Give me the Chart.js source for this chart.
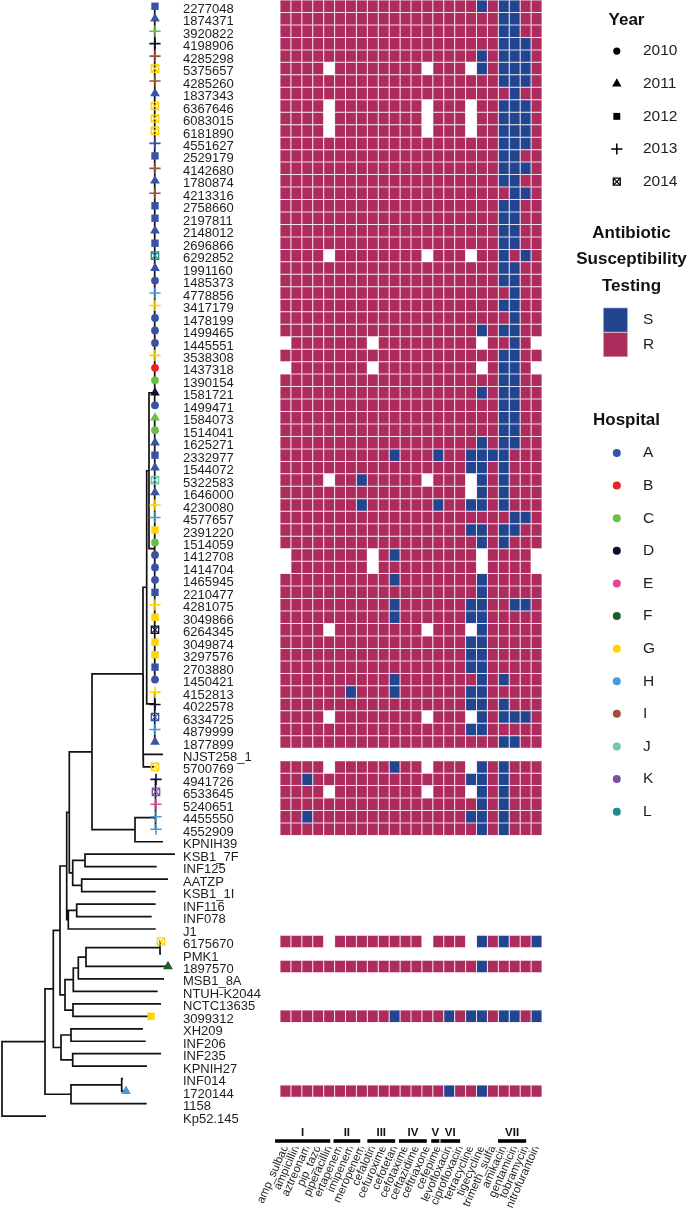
<!DOCTYPE html>
<html>
<head>
<meta charset="utf-8">
<script src="https://cdn.jsdelivr.net/npm/chart.js@4.4.1/dist/chart.umd.min.js"></script>
<style>
  html, body { margin:0; padding:0; background:#ffffff; }
  body { width:689px; height:1215px; position:relative; overflow:hidden; }
  .box { position:absolute; }
</style>
</head>
<body>
<div class="box" style="left:0;top:0;width:183px;height:1215px;"><canvas id="tree"></canvas></div>
<div class="box" style="left:183px;top:0;width:359px;height:1215px;"><canvas id="heat"></canvas></div>
<div class="box" style="left:564px;top:0;width:125px;height:198px;"><canvas id="legYear"></canvas></div>
<div class="box" style="left:574px;top:200px;width:115px;height:157px;"><canvas id="legAst"></canvas></div>
<div class="box" style="left:564px;top:395px;width:125px;height:433px;"><canvas id="legHosp"></canvas></div>
<script>
// ---------------- DATA ----------------
const TIPS = ['2277048','1874371','3920822','4198906','4285298','5375657','4285260','1837343','6367646','6083015',
  '6181890','4551627','2529179','4142680','1780874','4213316','2758660','2197811','2148012','2696866',
  '6292852','1991160','1485373','4778856','3417179','1478199','1499465','1445551','3538308','1437318',
  '1390154','1581721','1499471','1584073','1514041','1625271','2332977','1544072','5322583','1646000',
  '4230080','4577657','2391220','1514059','1412708','1414704','1465945','2210477','4281075','3049866',
  '6264345','3049874','3297576','2703880','1450421','4152813','4022578','6334725','4879999','1877899',
  'NJST258_1','5700769','4941726','6533645','5240651','4455550','4552909','KPNIH39','KSB1_7F','INF125',
  'AATZP','KSB1_1I','INF116','INF078','J1','6175670','PMK1','1897570','MSB1_8A','NTUH-K2044',
  'NCTC13635','3099312','XH209','INF206','INF235','KPNIH27','INF014','1720144','1158','Kp52.145'];

// tip depth (tree x position)
const TIP_X = [155,155,155,155,155,155,155,155,155,155,
  155,155,155,155,155,155,155,155,155,155,
  155,155,155,155,155,155,155,155,155,155,
  155,155,155,155,155,155,155,155,155,155,
  155,155,155,155,155,155,155,155,155,155,
  155,155,155,155,155,155,155,155,155,155,
  163,155,156,156,156,156,156,163,175,156.7,
  168,155.7,155.7,151.7,155.7,161,161,168,164,157.7,
  161,151,143,145.7,161,147,123,126,146.7,46];

const YEAR = [2012,2011,2013,2013,2013,2014,2013,2011,2014,2014,
  2014,2013,2012,2013,2011,2013,2012,2012,2011,2012,
  2014,2011,2010,2013,2013,2010,2010,2010,2013,2010,
  2010,2011,2010,2011,2010,2011,2012,2011,2014,2011,
  2013,2013,2012,2010,2010,2010,2010,2012,2013,2012,
  2014,2012,2012,2012,2010,2013,2013,2014,2013,2011,
  null,2014,2013,2014,2013,2013,2013,null,null,null,
  null,null,null,null,null,2014,null,2011,null,null,
  null,2012,null,null,null,null,null,2011,null,null];

const HOSP = ['A','A','C','D','I','G','I','A','G','G',
  'G','A','A','I','A','I','A','A','A','A',
  'L','A','A','H','G','A','A','A','G','B',
  'C','D','A','C','C','A','A','A','J','A',
  'G','H','G','C','A','A','A','A','G','G',
  'D','G','G','A','A','G','D','A','H','A',
  null,'G','D','K','E','H','H',null,null,null,
  null,null,null,null,null,'G',null,'F',null,null,
  null,'G',null,null,null,null,null,'H',null,null];

// tree: [node depth, children...]; a number is a tip (row index)
// ['lad', depth, tips...] = (((t0,t1),t2),...) ; ['ladR', depth, tips...] = (t0,(t1,(t2,...)))
const ST258 = [143,
  [146.7,
    [149,
      ['lad', 154.7, 0,1,2,3,4,5,6,7,8,9,10,11,12,13,14,15,16,17,18,19,20,21,22,23,24,25,26,27,28,29,30,31,32],
      [154.7, 33,34,35,36,37,38,39,40,41,42,43,44,45,46,47,48,49,50,51,52,53,54]],
    ['ladR', 154.7, 55,56,57,58,59]],
  [143.3, 60, 61]];
const CLADE_Q = [135, ['lad', 155.5, 62,63,64,65,66], 67];
const CLADE_M = [66.7,
  [69.3, [92, ST258, CLADE_Q], [72.7, [85, 68, 69], [81.7, 70, 71]]],
  [68.3, [76.7, 72, 73], 74]];
const CLADE_K = [65, [73.3, [78.3, [86, [160, 75, 76], 77], 78], 79], [73, 80, 81]];
const CLADE_L = [61, [71, 82, 83], [72.7, 84, 85]];
const TREE = [2,
  [45,
    [53.3, [60, CLADE_M, CLADE_K], CLADE_L],
    [71, [121.7, 86, 87], 88]],
  89];

const ABX = ['amp_sulbac','ampicillin','aztreonam','pip_tazo','piperacillin','ertapenem','imipenem','meropenem',
  'cefalotin','cefuroxime','cefotetan','cefotaxime','ceftazidime','ceftriaxone','cefepime','levofloxacin',
  'ciprofloxacin','tetracycline','tigecycline','trimeth_sulfa','amikacin','gentamicin','tobramycin','nitrofurantoin'];

// S = susceptible, R = resistant, - = not tested (groups of 6 antibiotics)
const AST = [
  'RRRRRR RRRRRR RRRRRR SRSSRR','RRRRRR RRRRRR RRRRRR RRSSRR','RRRRRR RRRRRR RRRRRR RRSSRR','RRRRRR RRRRRR RRRRRR RRSSSR',
  'RRRRRR RRRRRR RRRRRR SRSSSR','RRRR-R RRRRRR R-RRR- SRSSSR','RRRRRR RRRRRR RRRRRR RRSSSR','RRRRRR RRRRRR RRRRRR RRRSRR',
  'RRRR-R RRRRRR R-RRR- RRSSSR','RRRR-R RRRRRR R-RRR- RRSSSR','RRRR-R RRRRRR R-RRR- RRSSSR','RRRRRR RRRRRR RRRRRR RRSSSR',
  'RRRRRR RRRRRR RRRRRR RRSSRR','RRRRRR RRRRRR RRRRRR RRSSSR','RRRRRR RRRRRR RRRRRR RRSSRR','RRRRRR RRRRRR RRRRRR RRRSSR',
  'RRRRRR RRRRRR RRRRRR RRSSRR','RRRRRR RRRRRR RRRRRR RRSSRR','RRRRRR RRRRRR RRRRRR RRSSRR','RRRRRR RRRRRR RRRRRR RRSSRR',
  'RRRR-R RRRRRR R-RRR- RRSRSR','RRRRRR RRRRRR RRRRRR RRSSRR','RRRRRR RRRRRR RRRRRR RRSSRR','RRRRRR RRRRRR RRRRRR RRRSRR',
  'RRRRRR RRRRRR RRRRRR RRSSRR','RRRRRR RRRRRR RRRRRR RRRSRR','RRRRRR RRRRRR RRRRRR SRSSRR','-RRRRR RR-RRR RRRRRR -RRSR-',
  'RRRRRR RRRRRR RRRRRR RRSSRR','-RRRRR RR-RRR RRRRRR -RSSR-','RRRRRR RRRRRR RRRRRR RRSSRR','RRRRRR RRRRRR RRRRRR SRSSRR',
  'RRRRRR RRRRRR RRRRRR RRSSRR','RRRRRR RRRRRR RRRRRR RRSSRR','RRRRRR RRRRRR RRRRRR RRSSRR','RRRRRR RRRRRR RRRRRR SRSSRR',
  'RRRRRR RRRRSR RRSRRS SSSRRR','RRRRRR RRRRRR RRRRRS SRSRRR','RRRR-R RSRRRR R-RRR- SRSRRR','RRRRRR RRRRRR RRRRR- SRSRRR',
  'RRRRRR RSRRRR RRSRRS SRSRRR','RRRRRR RRRRRR RRRRRR RRRSSR','RRRRRR RRRRRR RRRRRS SRSSRR','RRRRRR RRRRRR RRRRRR SRSRRR',
  '-RRRRR RR-RSR RRRRRR -RRRR-','-RRRRR RR-RRR RRRRRR -RRRR-','RRRRRR RRRRSR RRRRRR SRRRRR','RRRRRR RRRRRR RRRRRR SRRRRR',
  'RRRRRR RRRRSR RRRRRS SRRSSR','RRRRRR RRRRSR RRRRRS SRRRRR','RRRR-R RRRRRR R-RRR- SRRRRR','RRRRRR RRRRRR RRRRRS SRRRRR',
  'RRRRRR RRRRRR RRRRRS SRRRRR','RRRRRR RRRRRR RRRRRS SRRRRR','RRRRRR RRRRSR RRRRRR SRSRRR','RRRRRR SRRRSR RRRRRS SRRRRR',
  'RRRRRR RRRRRR RRRRRS SRSRRR','RRRR-R RRRRRR R-RRR- SRSSSR','RRRRRR RRRRRR RRRRRS SRRRRR','RRRRRR RRRRRR RRRRRR RRSSRR',
  null,'RRRR-R RRRRSR R-RRR- SRSRRR','RRSRRR RRRRRR RRRRRS SRSRRR','RRRR-R RRRRRR R-RRR- SRSRRR',
  'RRRRRR RRRRRR RRRRRR SRSRRR','RRSRRR RRRRRR RRRRRS SRSRRR','RRRRRR RRRRRR RRRRRR SRSRRR',
  null,null,null,null,null,null,null,null,
  'RRRR-R RRRRRR R-RRR- SRSRRS',null,'RRRRRR RRRRRR RRRRRR SRRRRR',null,null,null,
  'RRRRRR RRRRSR RRRSRS SRSSRS',null,null,null,null,null,
  'RRRRRR RRRRRR RRRSRR SRRRRR',null,null];

const GROUPS = ['I','II','III','IV','V','VI','VII'];
const GROUP_START = [-0.45, 4.9, 8.0, 10.9, 13.85, 14.7, 19.97];
const GROUP_END   = [4.6, 7.35, 10.55, 13.45, 14.6, 16.5, 22.55];

const YEARS = [2010, 2011, 2012, 2013, 2014];
const AST_LEVELS = ['S', 'R'];
const HOSPITALS = ['A','B','C','D','E','F','G','H','I','J','K','L'];
const HOSP_COLORS = ['#3953A4','#ED2024','#6ABD45','#0D0D33','#E5449A','#1C5C2E',
  '#FFD400','#4A9ADA','#A0513E','#6DCBA6','#7B4FA0','#1F8A8C'];

// ---------------- STYLE ----------------
const FONT = '"Liberation Sans", Arial, Helvetica, sans-serif';
Chart.defaults.font.family = FONT;
Chart.defaults.animation = false;
const R_COLOR = '#AD2B5D', S_COLOR = '#23448F';
const R_EDGE = '#E9BFCE', S_EDGE = '#B9C4E0';
const TEXT = '#1e1e1e';
const ROWS_ALL = TIPS.length + 2;          // + row for group numerals + row for group bars
const AXIS_H = 1215 - 1147.24;
const YEAR_SHAPE = ['circle','triangle','rect','cross','rect'];
const YEAR_SIZE = [3.9, 5.6, 5.2, 5.6, 5.2];

// ---------------- TREE ----------------
function expand(node) {
  if (typeof node === 'number') return node;
  if (node[0] === 'lad') {
    const x = node[1], t = node.slice(2);
    let cur = [x, t[0], t[1]];
    for (let k = 2; k < t.length; k++) cur = [x, cur, t[k]];
    return cur;
  }
  if (node[0] === 'ladR') {
    const x = node[1], t = node.slice(2);
    let cur = [x, t[t.length - 2], t[t.length - 1]];
    for (let k = t.length - 3; k >= 0; k--) cur = [x, t[k], cur];
    return cur;
  }
  return [node[0]].concat(node.slice(1).map(expand));
}
const segs = [];
function place(node) {
  if (typeof node === 'number') return {x: TIP_X[node], y: node};
  const x = node[0];
  const kids = node.slice(1).map(place);
  const y = kids.reduce((s, k) => s + k.y, 0) / kids.length;
  kids.forEach(k => segs.push({x: x, y: y}, {x: x, y: k.y}, {x: k.x, y: k.y}, {x: null, y: null}));
  return {x, y};
}
place(expand(TREE));

const mk = {data: [], style: [], bg: [], bc: [], r: [], bw: []};
const xo = {data: [], bc: []};
TIPS.forEach((t, i) => {
  if (YEAR[i] == null) return;
  const yi = YEARS.indexOf(YEAR[i]);
  const col = HOSP_COLORS[HOSPITALS.indexOf(HOSP[i])];
  const filled = yi <= 2;
  mk.data.push({x: TIP_X[i], y: i});
  mk.style.push(YEAR_SHAPE[yi]);
  mk.bg.push(filled ? col : 'rgba(0,0,0,0)');
  mk.bc.push(col);
  mk.r.push(YEAR_SIZE[yi]);
  mk.bw.push(filled ? 0 : (yi === 3 ? 1.6 : 1.3));
  if (yi === 4) { xo.data.push({x: TIP_X[i], y: i}); xo.bc.push(col); }
});

new Chart(document.getElementById('tree'), {
  type: 'scatter',
  data: { datasets: [
    {data: segs, showLine: true, borderColor: '#111', borderWidth: 1.7, pointRadius: 0, spanGaps: false, order: 3, clip: false},
    {data: mk.data, pointStyle: mk.style, pointBackgroundColor: mk.bg, pointBorderColor: mk.bc,
     pointRadius: mk.r, pointBorderWidth: mk.bw, order: 2, clip: false},
    {data: xo.data, pointStyle: 'crossRot', pointBorderColor: xo.bc, pointBackgroundColor: 'rgba(0,0,0,0)',
     pointRadius: 5.2, pointBorderWidth: 1.2, order: 1, clip: false}
  ]},
  options: {
    responsive: true, maintainAspectRatio: false, animation: false,
    layout: {autoPadding: false, padding: {left: 0, right: 0, top: 0, bottom: AXIS_H}},
    plugins: {legend: {display: false}, tooltip: {enabled: false}},
    scales: {
      x: {type: 'linear', display: false, min: 0, max: 183},
      y: {type: 'linear', display: false, min: -0.5, max: ROWS_ALL - 0.5, reverse: true}
    }
  }
});

// ---------------- HEATMAP ----------------
const astRows = AST.map(s => s ? s.replace(/ /g, '') : null);
const heatSets = ABX.map((name, j) => ({
  label: name,
  data: astRows.map(r => (r && r[j] !== '-') ? [j, j + 1] : null),
  backgroundColor: astRows.map(r => (r && r[j] === 'S') ? S_COLOR : R_COLOR),
  borderColor: astRows.map(r => (r && r[j] === 'S') ? S_EDGE : R_EDGE),
  borderWidth: 0.5, borderSkipped: false, inflateAmount: 0,
  barPercentage: 1, categoryPercentage: 1, grouped: false
}));
const groupSets = GROUPS.map((g, k) => {
  const d = new Array(ROWS_ALL).fill(null);
  d[ROWS_ALL - 1] = [GROUP_START[k], GROUP_END[k]];
  return {label: g, data: d, backgroundColor: '#000', barThickness: 3.6, grouped: false,
          borderWidth: 0, inflateAmount: 0, clip: false};
});

const groupLabels = {
  id: 'groupLabels',
  afterDatasetsDraw(chart) {
    const {ctx, scales: {x, y}} = chart;
    ctx.save();
    ctx.font = 'bold 11.5px ' + FONT;
    ctx.fillStyle = '#111';
    ctx.textAlign = 'center';
    ctx.textBaseline = 'middle';
    GROUPS.forEach((g, k) => {
      ctx.fillText(g, x.getPixelForValue((GROUP_START[k] + GROUP_END[k]) / 2), y.getPixelForValue(TIPS.length) + 4);
    });
    ctx.restore();
  }
};

new Chart(document.getElementById('heat'), {
  type: 'bar',
  data: {labels: TIPS.concat(['', '']), datasets: heatSets.concat(groupSets)},
  options: {
    indexAxis: 'y', responsive: true, maintainAspectRatio: false, animation: false,
    layout: {autoPadding: false, padding: 0},
    plugins: {legend: {display: false}, tooltip: {enabled: false}},
    scales: {
      x: {type: 'linear', position: 'bottom', min: 0, max: ABX.length,
          grid: {display: false, drawTicks: false}, border: {display: false},
          afterBuildTicks: s => { s.ticks = ABX.map((_, j) => ({value: j + 0.5})); },
          ticks: {autoSkip: false, minRotation: 66, maxRotation: 66, padding: -4,
                  font: {size: 11.5}, color: TEXT, callback: v => ABX[Math.floor(v)]},
          afterFit: s => { s.height = AXIS_H; s.paddingLeft = 0; s.paddingRight = 0; }},
      y: {type: 'category', offset: true, grid: {display: false, drawTicks: false}, border: {display: false},
          ticks: {autoSkip: false, crossAlign: 'far', padding: 0, labelOffset: 3, font: {size: 13}, color: TEXT},
          afterFit: s => { s.width = 97; s.paddingTop = 0; s.paddingBottom = 0; }}
    }
  },
  plugins: [groupLabels]
});

// ---------------- LEGENDS ----------------
function legendChart(id, title, titleFont, titlePad, labels, datasets, xMin) {
  new Chart(document.getElementById(id), {
    type: 'scatter',
    data: {datasets},
    options: {
      responsive: true, maintainAspectRatio: false, animation: false,
      layout: {autoPadding: false, padding: 0},
      plugins: {
        legend: {display: false}, tooltip: {enabled: false},
        title: {display: true, text: title, align: 'center', color: '#111', font: titleFont, padding: titlePad}
      },
      scales: {
        x: {type: 'linear', display: false, min: xMin, max: 1},
        y: {type: 'linear', position: 'right', min: -0.5, max: labels.length - 0.5, reverse: true,
            grid: {display: false, drawTicks: false}, border: {display: false},
            afterBuildTicks: s => { s.ticks = labels.map((_, i) => ({value: i})); },
            ticks: {autoSkip: false, padding: 13, font: {size: 15.5}, color: TEXT, callback: v => labels[v]},
            afterFit: s => { s.width = 59; s.paddingTop = 0; s.paddingBottom = 0; }}
      }
    }
  });
}

legendChart('legYear', 'Year', {size: 17, weight: 'bold'}, {top: 9.8, bottom: 4.5},
  YEARS.map(String),
  [{data: YEARS.map((_, i) => ({x: 0, y: i})), pointStyle: YEAR_SHAPE,
    pointRadius: [3.6, 5.4, 4.9, 5.6, 4.9],
    pointBackgroundColor: YEARS.map((_, i) => i <= 2 ? '#000' : 'rgba(0,0,0,0)'),
    pointBorderColor: '#000', pointBorderWidth: [0, 0, 0, 1.5, 1.3], clip: false},
   {data: [{x: 0, y: 4}], pointStyle: 'crossRot', pointRadius: 4.9, pointBorderWidth: 1.2,
    pointBorderColor: '#000', pointBackgroundColor: 'rgba(0,0,0,0)', clip: false}],
  -4);

legendChart('legAst', ['Antibiotic', 'Susceptibility', 'Testing'], {size: 17, weight: 'bold', lineHeight: 1.57},
  {top: 19.65, bottom: 8},
  AST_LEVELS,
  [{data: AST_LEVELS.map((_, i) => ({x: 0, y: i})), pointStyle: 'rect', pointRadius: 17.2,
    pointBackgroundColor: [S_COLOR, R_COLOR], pointBorderColor: ['#C9D1E8', '#EFCFDA'], pointBorderWidth: 0.6, clip: false}],
  -2.86);

legendChart('legHosp', 'Hospital', {size: 17, weight: 'bold'}, {top: 14.8, bottom: 6.5},
  HOSPITALS,
  [{data: HOSPITALS.map((_, i) => ({x: 0, y: i})), pointStyle: 'circle', pointRadius: 4,
    pointBackgroundColor: HOSP_COLORS, pointBorderWidth: 0, clip: false}],
  -4);
</script>
</body>
</html>
